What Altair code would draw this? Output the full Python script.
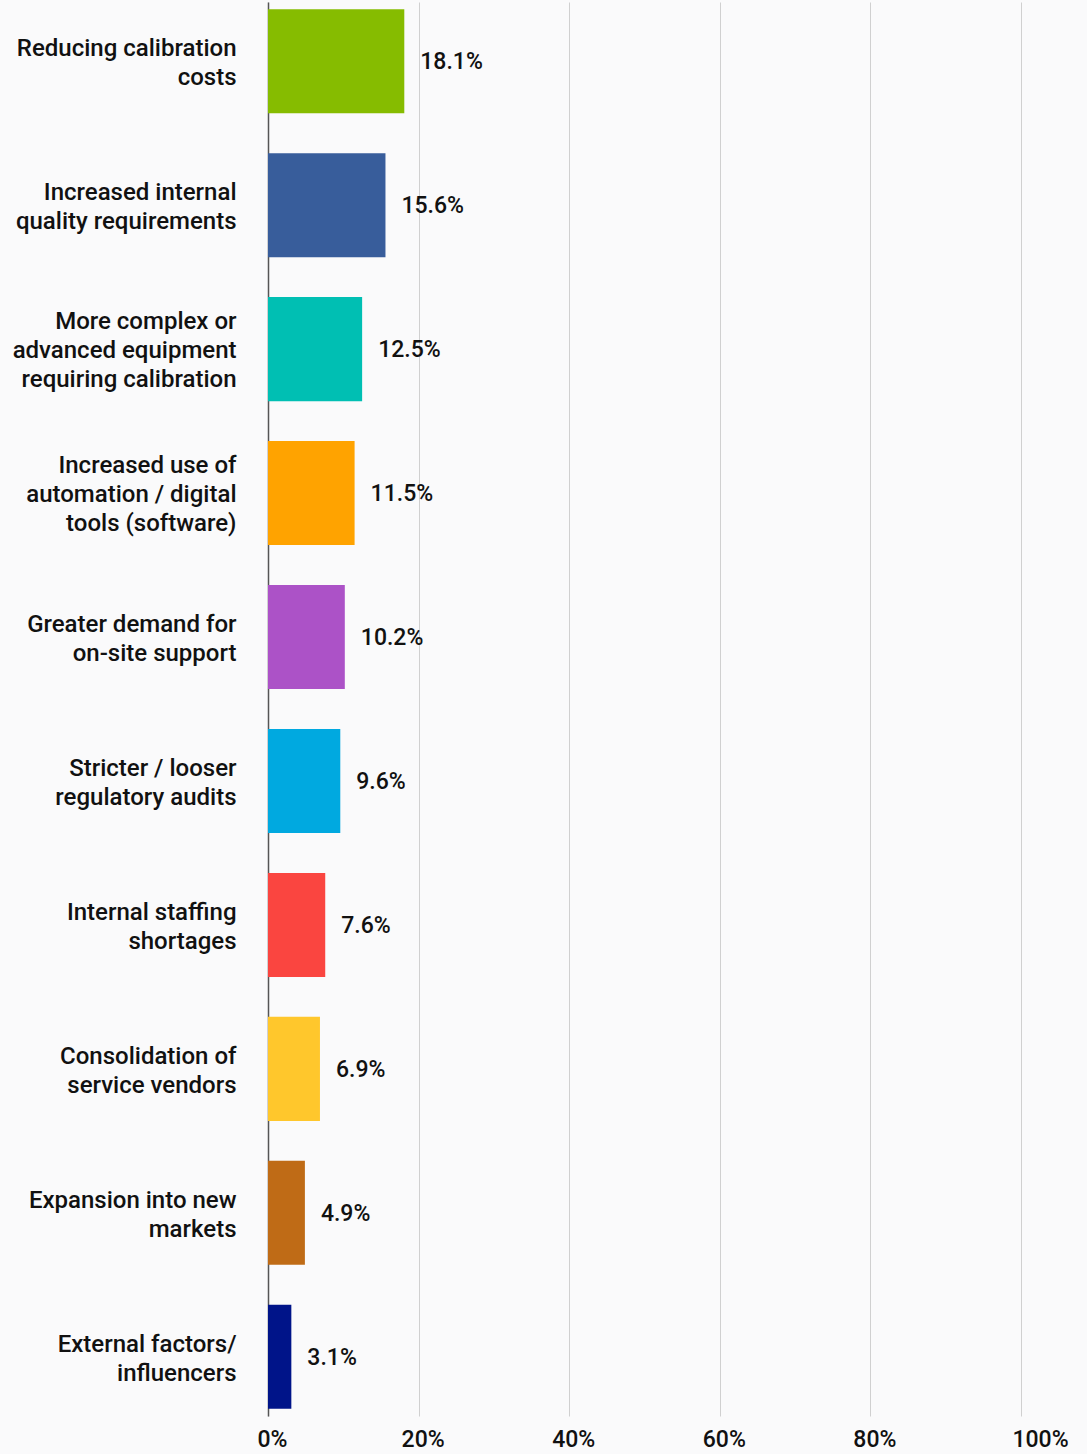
import altair as alt
import pandas as pd

categories = [
    "Reducing calibration|costs",
    "Increased internal|quality requirements",
    "More complex or|advanced equipment|requiring calibration",
    "Increased use of|automation / digital|tools (software)",
    "Greater demand for|on-site support",
    "Stricter / looser|regulatory audits",
    "Internal staffing|shortages",
    "Consolidation of|service vendors",
    "Expansion into new|markets",
    "External factors/|influencers",
]
values = [18.1, 15.6, 12.5, 11.5, 10.2, 9.6, 7.6, 6.9, 4.9, 3.1]
colors = ["#86bc00", "#385d9b", "#00bfb3", "#ffa300", "#ac52c7",
          "#00a9e0", "#fa4540", "#ffc72c", "#bf6b16", "#001489"]
x_ticks = [0, 20, 40, 60, 80, 100]

df = pd.DataFrame({
    "cat": categories,
    "val": values,
    "label": [f"{v:.1f}%" for v in values],
})

y = alt.Y("cat:N", sort=categories,
          scale=alt.Scale(paddingInner=0.277, paddingOuter=0.05),
          axis=alt.Axis(title=None, labelExpr="split(datum.label, '|')",
                        labelFont="Roboto", labelFontSize=24, labelFontWeight=500,
                        labelColor="#111111", labelLineHeight=29, labelPadding=32,
                        labelBaseline="middle",
                        labelOffset=alt.condition(
                            "length(split(datum.label, '|')) >= 3",
                            alt.value(-27), alt.value(-12)),
                        labelLimit=400, ticks=False, domain=True,
                        domainColor="#555555", domainWidth=1.5, grid=False))

x = alt.X("val:Q", scale=alt.Scale(domain=[0, 100], nice=False),
          axis=alt.Axis(title=None, values=x_ticks,
                        labelExpr="datum.value + '%'", labelFont="Roboto",
                        labelFontSize=23, labelFontWeight=500, labelColor="#111111",
                        labelPadding=12, labelFlush=False,
                        labelOffset=alt.condition("datum.value == 100",
                                                  alt.value(19), alt.value(4)),
                        ticks=False, domain=False,
                        grid=True, gridColor="#d0d0d0", gridWidth=1))

bars = alt.Chart(df).mark_bar().encode(
    x=x, y=y,
    color=alt.Color("cat:N", sort=categories,
                    scale=alt.Scale(domain=categories, range=colors), legend=None),
)

text = alt.Chart(df).mark_text(align="left", baseline="middle", dx=16, dy=1,
                               font="Roboto", fontSize=23, fontWeight=500,
                               color="#111111").encode(
    x="val:Q", y=alt.Y("cat:N", sort=categories), text="label:N")

chart = (bars + text).properties(
    width=753, height=1414,
    background="#fafafb",
    autosize=alt.AutoSizeParams(type="none"),
    padding={"left": 268, "top": 2, "right": 66, "bottom": 38},
).configure_view(stroke=None)

chart.save("out.html", embed_options={"renderer": "svg", "actions": False})
